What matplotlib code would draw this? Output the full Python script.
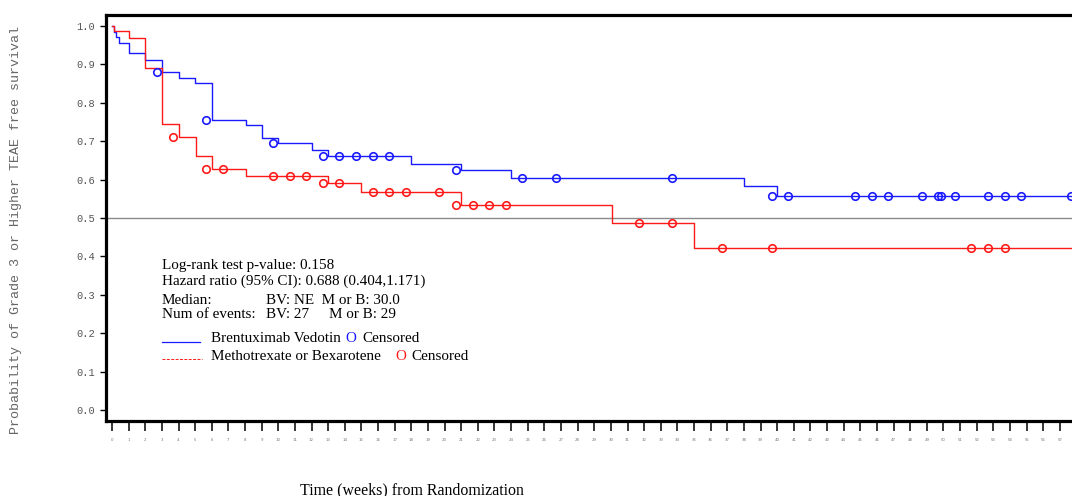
import numpy as np
import matplotlib
matplotlib.use("Agg")
import matplotlib.pyplot as plt


# ------------------ KM step data (weeks, survival) ------------------#

bv_times = [0, 0.15, 0.27, 0.43, 1.02, 2.0, 3.0, 4.0, 5.0, 6.0, 8.05, 9.05,
            10.0, 12.0, 13.0, 18.0, 21.0, 24.0, 38.0, 40.0]
bv_surv = [1.0, 0.984, 0.972, 0.955, 0.929, 0.910, 0.880, 0.865, 0.850, 0.756,
           0.741, 0.708, 0.695, 0.676, 0.662, 0.641, 0.625, 0.603, 0.583, 0.558]

mb_times = [0, 0.14, 1.02, 2.0, 3.0, 4.0, 5.03, 6.0, 8.05, 13.0, 15.0, 21.0,
            30.05, 35.0]
mb_surv = [1.0, 0.986, 0.968, 0.889, 0.744, 0.711, 0.662, 0.628, 0.610, 0.590,
           0.567, 0.533, 0.486, 0.423]

# censoring times (weeks)
bv_cens = [3, 6, 10, 13, 14, 15, 16, 17, 21, 25, 27, 34, 40, 41, 45, 46, 47,
           49, 50, 50.15, 51, 53, 54, 55, 58]
mb_cens = [4, 6, 7, 10, 11, 12, 13, 14, 16, 17, 18, 20, 21, 22, 23, 24, 32,
           34, 37, 40, 52, 53, 54]

x_ticks = list(range(0, 58))
y_ticks = [0.0, 0.1, 0.2, 0.3, 0.4, 0.5, 0.6, 0.7, 0.8, 0.9, 1.0]

t_end = 58.6
glyph_shift = 0.32   # the "O" symbol sits a bit left of its time


def surv_at(times, surv, t):
    idx = np.searchsorted(times, t, side='right') - 1
    return np.array(surv)[idx]


W, H = 1072, 496
fig = plt.figure(figsize=(W / 100, H / 100), dpi=100)

x0, x1 = -0.36, t_end
left_px, right_px = 106, 106 + (x1 - x0) * 16.63
top_px, bot_px = 15, 421
ax = fig.add_axes([left_px / W, 1 - bot_px / H,
                   (right_px - left_px) / W, (bot_px - top_px) / H])
ax.set_xlim(x0, x1)
ax.set_ylim(-0.028, 1.028)

ax.axhline(0.5, color='#8a8a8a', lw=1.0, zorder=1)

blue = '#1a1aff'
red = '#ff1a1a'

ax.step(bv_times + [t_end], bv_surv + [bv_surv[-1]], where='post',
        color=blue, lw=1.0, zorder=3)
ax.step(mb_times + [t_end], mb_surv + [mb_surv[-1]], where='post',
        color=red, lw=1.0, zorder=3)

bc = np.array(bv_cens)
mc = np.array(mb_cens)
ax.plot(bc - glyph_shift, surv_at(bv_times, bv_surv, bc), 'o', ms=5.4,
        mfc='none', mec=blue, mew=1.2, zorder=4)
ax.plot(mc - glyph_shift, surv_at(mb_times, mb_surv, mc), 'o', ms=5.4,
        mfc='none', mec=red, mew=1.2, zorder=4)

for s in ax.spines.values():
    s.set_linewidth(2.3)

ax.set_yticks(y_ticks)
ax.set_yticklabels([f"{v:.1f}" for v in y_ticks], family='Liberation Mono',
                   fontsize=7.5, color='#555555')
ax.tick_params(axis='y', length=4, width=1.0, pad=4)

ax.set_xticks(x_ticks)
ax.set_xticklabels([str(v) for v in x_ticks], fontsize=2.8, color='#777777')
ax.tick_params(axis='x', length=7.5, width=1.1, pad=5)

fig.text(16 / W, 1 - 230 / H,
         "Probability of Grade 3 or Higher TEAE free survival",
         rotation=90, ha='center', va='center', family='Liberation Mono',
         fontsize=9.6, color='#666666')

fig.text(412 / W, 1 - 490 / H, "Time (weeks) from Randomization",
         ha='center', va='center', family='Liberation Serif', fontsize=11.4)

# ------------------ annotations and legend ------------------#
fs = 10.9
serif = 'Liberation Serif'


def txt(x, y, s, color='black'):
    fig.text(x / W, 1 - y / H, s, ha='left', va='center', family=serif,
             fontsize=fs, color=color)


txt(162, 266, "Log-rank test p-value: 0.158")
txt(162, 281.5, "Hazard ratio (95% CI): 0.688 (0.404,1.171)")
txt(162, 301, "Median:")
txt(266, 301, "BV: NE  M or B: 30.0")
txt(162, 315, "Num of events:")
txt(266, 315, "BV: 27")
txt(329, 315, "M or B: 29")

fig.add_artist(plt.Line2D([162 / W, 200 / W], [1 - 341.5 / H, 1 - 341.5 / H],
                          color=blue, lw=0.9))
txt(211, 339, "Brentuximab Vedotin")
txt(345, 339, "O", color=blue)
txt(362, 339, "Censored")

fig.add_artist(plt.Line2D([162 / W, 202 / W], [1 - 358.5 / H, 1 - 358.5 / H],
                          color=red, lw=0.7, ls=(0, (3, 1.5))))
txt(211, 357, "Methotrexate or Bexarotene")
txt(395, 357, "O", color=red)
txt(411, 357, "Censored")

fig.savefig("out.png", dpi=100)
